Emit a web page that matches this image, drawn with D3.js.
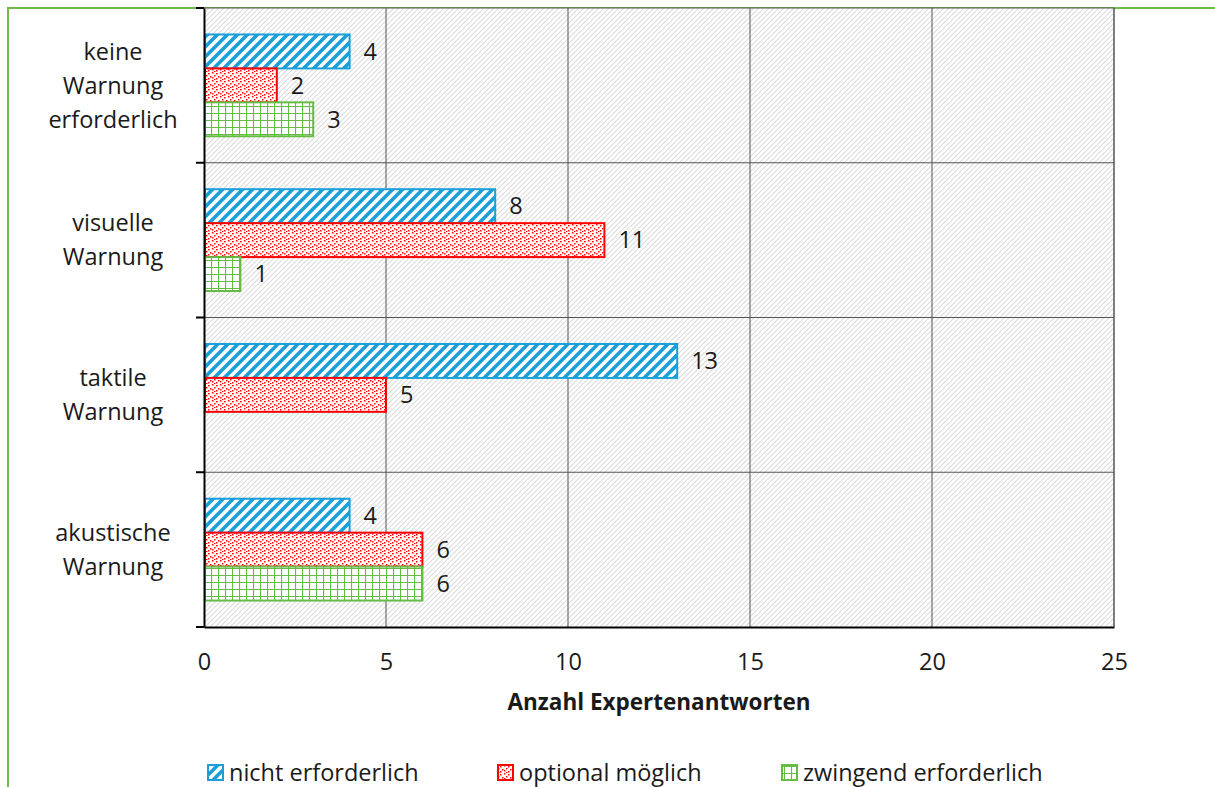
<!DOCTYPE html>
<meta charset="UTF-8">
<style>
    body { margin: 0; background: #fff; }
    text { font-family: "Open Sans", Lato, sans-serif; fill: #1a1a1a; }
</style>
<body>
<div id="chart"></div>
<script src="https://d3js.org/d3.v7.min.js"></script>
<script>

// data
var categories = [["keine", "Warnung", "erforderlich"], ["visuelle", "Warnung"], ["taktile", "Warnung"], ["akustische", "Warnung"]];
var series = ["nicht erforderlich", "optional möglich", "zwingend erforderlich"];
var nichtErforderlich = [4, 8, 13, 4];
var optionalMoeglich = [2, 11, 5, 6];
var zwingendErforderlich = [3, 1, 0, 6];
var xTicks = [0, 5, 10, 15, 20, 25];
var xTitle = "Anzahl Expertenantworten";

var colors = ["#1a9fd8", "#ff0000", "#66bb44"];
var patternIds = ["pBlue", "pRed", "pGreen"];

var W = 1215, H = 787;
var margin = {top: 8, right: 101, bottom: 160, left: 204};
var width = W - margin.left - margin.right,
    height = H - margin.top - margin.bottom;
var fs = "23.5px";

var svg = d3.select("#chart").append("svg")
    .attr("width", W)
    .attr("height", H);

// patterns
var defs = svg.append("defs");

var bg = defs.append("pattern").attr("id", "pBg")
    .attr("patternUnits", "userSpaceOnUse").attr("width", 5).attr("height", 5);
bg.append("rect").attr("width", 5).attr("height", 5).attr("fill", "#fff");
bg.append("path").attr("d", "M-1,1 l2,-2 M0,5 l5,-5 M4,6 l2,-2")
    .attr("stroke", "#dcdcdc").attr("stroke-width", 1.1);

var pb = defs.append("pattern").attr("id", "pBlue")
    .attr("patternUnits", "userSpaceOnUse").attr("width", 10).attr("height", 10);
pb.append("rect").attr("width", 10).attr("height", 10).attr("fill", "#fff");
pb.append("path").attr("d", "M-2.5,2.5 l5,-5 M0,10 l10,-10 M7.5,12.5 l5,-5")
    .attr("stroke", colors[0]).attr("stroke-width", 3.6);

var pr = defs.append("pattern").attr("id", "pRed")
    .attr("patternUnits", "userSpaceOnUse").attr("width", 8).attr("height", 8);
pr.append("rect").attr("width", 8).attr("height", 8).attr("fill", "#fff");
[[0, 0], [4, 1], [2, 3], [6, 4], [0, 5], [4, 6], [2, 7]].forEach(function(d) {
    pr.append("rect").attr("x", d[0]).attr("y", d[1]).attr("width", 1.5).attr("height", 1.5)
        .attr("fill", colors[1]);
});

var pg = defs.append("pattern").attr("id", "pGreen")
    .attr("patternUnits", "userSpaceOnUse").attr("width", 7).attr("height", 7);
pg.append("rect").attr("width", 7).attr("height", 7).attr("fill", "#fff");
pg.append("path").attr("d", "M0,0 H7 M0,0 V7")
    .attr("stroke", colors[2]).attr("stroke-width", 2.2);

// green outer frame
svg.append("path")
    .attr("d", "M8," + H + " V8 H" + W)
    .attr("fill", "none").attr("stroke", "#70b94a").attr("stroke-width", 2);

var g = svg.append("g")
    .attr("transform", "translate(" + margin.left + "," + margin.top + ")");

// scales
var x = d3.scaleLinear().domain([0, 25]).range([0, width]);
var y = d3.scaleBand().domain(d3.range(categories.length)).range([0, height]);
var yInner = d3.scaleBand().domain(d3.range(series.length))
    .range([0, y.bandwidth()]).paddingInner(0).paddingOuter(0.78);

// plot background
g.append("rect").attr("width", width).attr("height", height).attr("fill", "url(#pBg)");

// gridlines
g.append("g").selectAll("line").data(xTicks.slice(1)).join("line")
    .attr("x1", function(d) { return x(d); }).attr("x2", function(d) { return x(d); })
    .attr("y1", 0).attr("y2", height)
    .attr("stroke", "#555").attr("stroke-width", 1);
g.append("g").selectAll("line").data(d3.range(categories.length)).join("line")
    .attr("x1", 0).attr("x2", width)
    .attr("y1", function(d) { return y(d); }).attr("y2", function(d) { return y(d); })
    .attr("stroke", "#555").attr("stroke-width", 1);

// bars
var rows = [];
categories.forEach(function(c, i) {
    [nichtErforderlich, optionalMoeglich, zwingendErforderlich].forEach(function(s, j) {
        if (s[i] > 0) rows.push({cat: i, ser: j, value: s[i]});
    });
});

g.append("g").selectAll("rect").data(rows).join("rect")
    .attr("x", x(0) + 1)
    .attr("y", function(d) { return y(d.cat) + yInner(d.ser); })
    .attr("width", function(d) { return x(d.value) - x(0) - 1; })
    .attr("height", yInner.bandwidth())
    .attr("fill", function(d) { return "url(#" + patternIds[d.ser] + ")"; })
    .attr("stroke", function(d) { return colors[d.ser]; })
    .attr("stroke-width", 2);

// value labels
g.append("g").selectAll("text").data(rows).join("text")
    .attr("x", function(d) { return x(d.value) + 14; })
    .attr("y", function(d) { return y(d.cat) + yInner(d.ser) + yInner.bandwidth() / 2; })
    .attr("dy", "0.35em")
    .style("font-size", fs)
    .text(function(d) { return d.value; });

// axes
var yAxis = g.append("g")
    .call(d3.axisLeft(y).tickValues([]).tickSizeOuter(0));
yAxis.select(".domain").attr("stroke", "#000").attr("stroke-width", 2);
yAxis.selectAll(".band").data(d3.range(categories.length + 1)).join("line")
    .attr("class", "band")
    .attr("x1", -8).attr("x2", 0)
    .attr("y1", function(d) { return d * y.step(); }).attr("y2", function(d) { return d * y.step(); })
    .attr("stroke", "#000").attr("stroke-width", 2);

var xAxis = g.append("g")
    .attr("transform", "translate(0," + height + ")")
    .call(d3.axisBottom(x).tickValues(xTicks).tickSize(0).tickPadding(26).tickSizeOuter(0));
xAxis.select(".domain").attr("stroke", "#000").attr("stroke-width", 2);
xAxis.selectAll("text").style("font-size", fs).style("font-family", "'Open Sans', sans-serif").attr("fill", "#1a1a1a");

// right border
g.append("line").attr("x1", width).attr("x2", width).attr("y1", 0).attr("y2", height)
    .attr("stroke", "#555");

// category labels
categories.forEach(function(lines, i) {
    var cy = y(i) + y.bandwidth() / 2;
    var lh = 34;
    var t = g.append("text")
        .attr("text-anchor", "middle")
        .style("font-size", fs);
    lines.forEach(function(l, k) {
        t.append("tspan")
            .attr("x", -91)
            .attr("y", cy + (k - (lines.length - 1) / 2) * lh)
            .attr("dy", "0.35em")
            .text(l);
    });
});

// x axis title
g.append("text")
    .attr("x", x(12.5)).attr("y", height + 83)
    .attr("text-anchor", "middle")
    .style("font-size", "22.5px").style("font-weight", "bold")
    .text(xTitle);

// legend
var legendX = [207, 497, 781];
var legend = svg.append("g").attr("transform", "translate(0,773)");
series.forEach(function(s, j) {
    legend.append("rect")
        .attr("x", legendX[j] + 1).attr("y", -8).attr("width", 15).attr("height", 15)
        .attr("fill", "url(#" + patternIds[j] + ")")
        .attr("stroke", colors[j]).attr("stroke-width", 2);
    legend.append("text")
        .attr("x", legendX[j] + 22).attr("y", 0).attr("dy", "0.35em")
        .style("font-size", fs)
        .text(s);
});

</script>
</body>
